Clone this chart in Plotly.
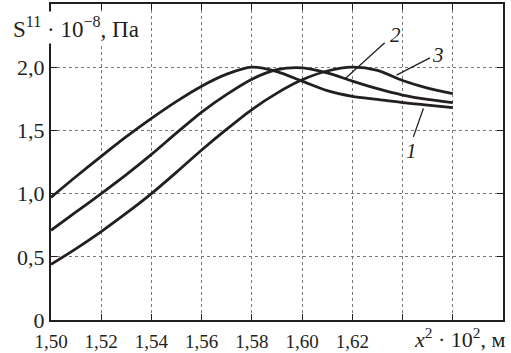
import plotly.graph_objects as go

x_vals = [1.50, 1.51, 1.52, 1.53, 1.54, 1.55, 1.56, 1.57, 1.58, 1.59, 1.60,
          1.61, 1.62, 1.63, 1.64, 1.65, 1.66]
curve1 = [0.97, 1.135, 1.295, 1.45, 1.595, 1.73, 1.85, 1.945, 2.00, 1.965, 1.89,
          1.815, 1.77, 1.745, 1.72, 1.70, 1.68]
curve2 = [0.71, 0.855, 1.00, 1.15, 1.31, 1.48, 1.645, 1.785, 1.905, 1.98, 1.995,
          1.955, 1.89, 1.83, 1.78, 1.745, 1.72]
curve3 = [0.44, 0.565, 0.70, 0.845, 1.00, 1.17, 1.345, 1.51, 1.665, 1.795, 1.90,
          1.97, 2.00, 1.975, 1.895, 1.835, 1.79]

x_ticks = [1.50, 1.52, 1.54, 1.56, 1.58, 1.60, 1.62]
x_ticktext = ["1,50", "1,52", "1,54", "1,56", "1,58", "1,60", "1,62"]
x_minor_ticks = [1.64, 1.66]
y_ticks = [0, 0.5, 1.0, 1.5, 2.0]
y_ticktext = ["0", "0,5", "1,0", "1,5", "2,0"]

labels = ["1", "2", "3"]
label_pos = [(1.6436, 1.34), (1.6372, 2.254), (1.654, 2.096)]
leader_lines = [((1.6483, 1.674), (1.6443, 1.449)),
                ((1.6169, 1.904), (1.6329, 2.193)),
                ((1.6376, 1.937), (1.6509, 2.074))]

FONT = "Liberation Serif"
INK = "#231f20"

fig = go.Figure()
for ys in (curve1, curve2, curve3):
    fig.add_trace(go.Scatter(x=x_vals, y=ys, mode="lines",
                             line=dict(color=INK, width=2.8, shape="spline", smoothing=0.8),
                             showlegend=False, hoverinfo="skip"))

for (p0, p1) in leader_lines:
    fig.add_shape(type="line", x0=p0[0], y0=p0[1], x1=p1[0], y1=p1[1],
                  xref="x", yref="y", line=dict(color=INK, width=1.3))

for lab, (lx, ly) in zip(labels, label_pos):
    fig.add_annotation(x=lx, y=ly, xref="x", yref="y", text="<i>%s</i>" % lab,
                       showarrow=False, font=dict(family=FONT, size=21, color=INK))

fig.add_annotation(xref="paper", yref="paper", x=1.011, y=-0.058, xanchor="right",
                   yanchor="middle", showarrow=False,
                   text="<i>x</i><sup>2</sup> · 10<sup>2</sup>, м",
                   font=dict(family=FONT, size=22, color=INK))
fig.add_annotation(xref="paper", yref="paper", x=-0.088, y=0.926, xanchor="left",
                   yanchor="middle", showarrow=False, bgcolor="white",
                   text="S<sup>11</sup> · 10<sup>−8</sup>, Па",
                   font=dict(family=FONT, size=23, color=INK))

grid_style = dict(gridcolor="#777777", griddash="dot", gridwidth=1)
axis_common = dict(showline=True, linecolor=INK, linewidth=2, mirror="ticks",
                   ticks="inside", ticklen=6, tickwidth=1.3, tickcolor=INK,
                   showgrid=True, zeroline=False, automargin=False, **grid_style)

fig.update_xaxes(range=[1.50, 1.68], tickvals=x_ticks, ticktext=x_ticktext,
                 ticklabelstandoff=3, tickfont=dict(family=FONT, size=19, color=INK),
                 minor=dict(tickvals=x_minor_ticks, ticks="inside", ticklen=6,
                            tickwidth=1.3, tickcolor=INK, showgrid=True, **grid_style),
                 **axis_common)
fig.update_yaxes(range=[0, 2.5], tickvals=y_ticks, ticktext=y_ticktext,
                 tickfont=dict(family=FONT, size=22, color=INK), **axis_common)

fig.update_layout(width=511, height=353, margin=dict(l=51, r=8, t=4, b=33),
                  paper_bgcolor="white", plot_bgcolor="white",
                  font=dict(family=FONT, color=INK))

fig.write_html("out.html", config={"displayModeBar": False},
               post_script="document.body.style.margin='0';document.body.style.padding='0';")
